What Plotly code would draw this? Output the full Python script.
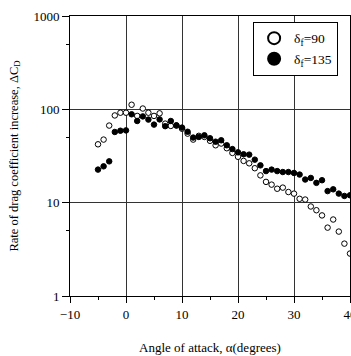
import plotly.graph_objects as go

# Angle of attack (degrees)
alpha = list(range(-5, 41))

# Rate of drag coefficient increase, delta_f = 90 (open circles)
cd_90 = [42.2, 47.4, 67.0, 86.0, 92.0, 92.0, 112.0, 85.0, 102.0, 92.0,
         85.0, 90.6, 70.3, 66.4, 67.0, 62.0, 54.9, 47.4, 52.0, 50.6,
         46.0, 41.2, 43.0, 38.3, 34.1, 31.0, 28.0, 26.4, 23.4, 19.6,
         16.7, 15.6, 14.1, 14.5, 13.0, 12.5, 11.0, 10.8, 9.1, 8.3,
         7.3, 5.4, 6.6, 4.9, 3.64, 2.85]

# Rate of drag coefficient increase, delta_f = 135 (filled circles)
cd_135 = [22.6, 24.5, 27.7, 57.2, 59.0, 59.5, 88.5, 75.0, 84.0, 77.6,
          68.6, 78.0, 66.0, 75.0, 67.4, 63.7, 57.5, 49.8, 50.6, 52.7,
          49.0, 45.0, 46.6, 41.2, 37.5, 34.6, 33.0, 32.7, 28.9, 25.1,
          21.8, 22.6, 21.8, 21.3, 21.3, 20.8, 20.0, 17.7, 18.4, 16.3,
          17.4, 13.3, 13.9, 12.5, 11.8, 12.0]

x_ticks = [-10, 0, 10, 20, 30, 40]
y_ticks = [1, 10, 100, 1000]
y_tick_text = ["1", "10", "100", "1000"]
y_minor = [5, 50, 500]

font_family = "Liberation Serif"

fig = go.Figure()
fig.add_trace(go.Scatter(
    x=alpha, y=cd_90, mode="markers", name="δ<sub>f</sub>=90",
    marker=dict(symbol="circle", size=5.5, color="white",
                line=dict(color="black", width=1)),
))
fig.add_trace(go.Scatter(
    x=alpha, y=cd_135, mode="markers", name="δ<sub>f</sub>=135",
    marker=dict(symbol="circle", size=5.5, color="black",
                line=dict(color="black", width=1)),
))

fig.update_layout(
    width=351, height=356,
    margin=dict(l=70, r=1, t=16, b=60, autoexpand=False),
    paper_bgcolor="white", plot_bgcolor="white",
    font=dict(family=font_family, size=13, color="black"),
    showlegend=True,
    legend=dict(x=0.654, y=0.979, xanchor="left", yanchor="top",
                bgcolor="white", bordercolor="black", borderwidth=1,
                font=dict(family=font_family, size=13.5), tracegroupgap=0,
                itemwidth=30, itemsizing="constant"),
)

fig.update_xaxes(
    range=[-10, 40], tickmode="array", tickvals=x_ticks,
    ticklabeloverflow="allow", automargin=False,
    showline=True, linecolor="black", linewidth=1, mirror=True,
    showgrid=True, gridcolor="#333", gridwidth=1,
    ticks="outside", ticklen=6, tickcolor="black", tickwidth=1,
    minor=dict(dtick=5, tick0=-10, ticks="outside", ticklen=3,
               tickcolor="black", showgrid=False),
    zeroline=False,
    title=dict(text="Angle of attack, α(degrees)",
               font=dict(family=font_family, size=13), standoff=22),
)
fig.update_yaxes(
    type="log", range=[0, 3], tickmode="array", tickvals=y_ticks,
    ticktext=y_tick_text, automargin=False,
    showline=True, linecolor="black", linewidth=1, mirror=True,
    showgrid=True, gridcolor="#333", gridwidth=1,
    ticks="outside", ticklen=7, tickcolor="black", tickwidth=1,
    minor=dict(tickmode="array", tickvals=y_minor, ticks="outside",
               ticklen=3, tickcolor="black", showgrid=False),
    zeroline=False,
    title=dict(text="Rate of drag coefficient increase, ΔC<sub>D</sub>",
               font=dict(family=font_family, size=12.5), standoff=12),
)

fig.write_html("out.html")
